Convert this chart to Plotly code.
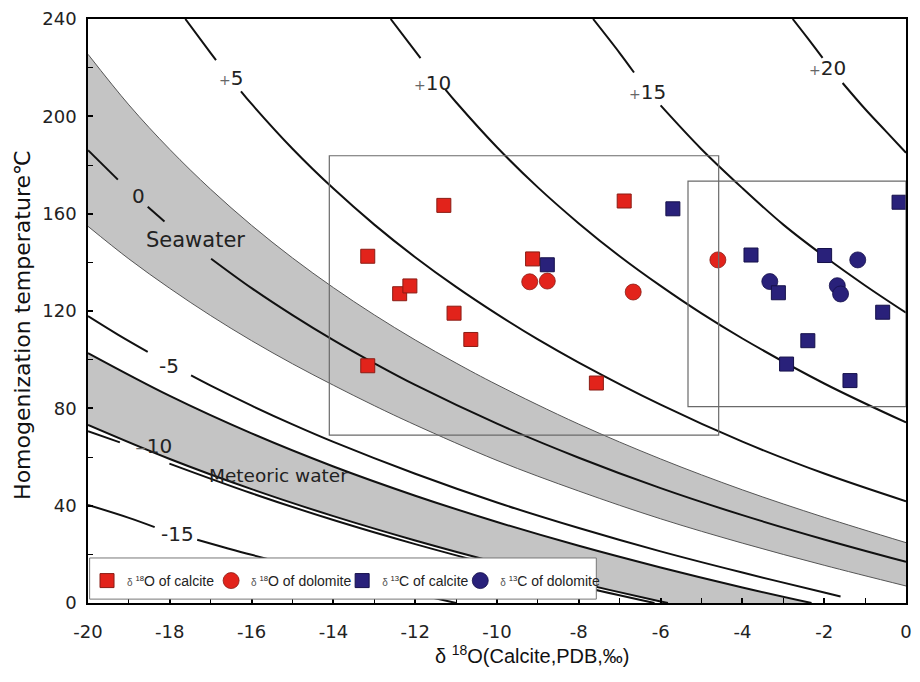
import plotly.graph_objects as go

# ---------------- data ----------------
# delta18O of calcite (red squares)
CAL_O_X = [-13.16, -11.30, -12.38, -12.13, -13.16, -11.05, -10.64, -9.13, -6.89, -7.57]
CAL_O_Y = [142.5, 163.4, 127.1, 130.3, 97.5, 119.1, 108.3, 141.4, 165.2, 90.4]
# delta18O of dolomite (red circles)
DOL_O_X = [-9.20, -8.77, -6.67, -4.60]
DOL_O_Y = [132.0, 132.3, 127.8, 141.0]
# delta13C of calcite (blue squares)
CAL_C_X = [-8.77, -5.70, -3.79, -3.12, -1.99, -0.17, -0.57, -2.40, -2.92, -1.37]
CAL_C_Y = [139.0, 162.0, 143.0, 127.5, 142.8, 164.7, 119.5, 107.8, 98.2, 91.4]
# delta13C of dolomite (blue circles)
DOL_C_X = [-3.33, -1.68, -1.60, -1.18]
DOL_C_Y = [132.1, 130.4, 127.0, 141.0]

# water isotope curves (None = gap left for a label)
PLUS20_X = [-2.77, -2.4, -2.04, None, -1.55, -1.0, -0.5, 0.0]
PLUS20_Y = [240, 232, 224, None, 213.7, 203, 194, 185]
PLUS15_X = [-7.65, -7.0, -6.65, None, -6.0, -5.0, -4.0, -3.0, -2.0, -1.0, 0.0]
PLUS15_Y = [240, 226, 218, None, 204.5, 186.5, 170.5, 155.5, 142.5, 130.5, 119.3]
PLUS10_X = [-12.6, -12.0, -11.87, None, -11.26, -11.0, -10.0, -9.0, -8.0, -7.0, -6.0, -5.0, -4.0, -2.0, 0.0]
PLUS10_Y = [240, 226.8, 223.9, None, 211.0, 205.8, 187.3, 170.8, 156.0, 142.5, 130.3, 119.0, 108.7, 90.2, 74.2]
PLUS5_X = [-17.62, -17.0, -16.87, None, -16.26, -16.0, -15.0, -14.0, -13.0, -12.0, -11.0, -10.0, -9.0, -8.0, -6.0, -4.0, -2.0, 0.0]
PLUS5_Y = [240, 226.0, 223.1, None, 210.3, 205.1, 186.7, 170.3, 155.5, 142.1, 129.9, 118.7, 108.3, 98.8, 81.5, 66.3, 53.2, 41.8]
ZERO_X = [-20, -19.27, None, -18.54, -18.13, None, -16.99, -16, -15, -14, -13, -12, -10, -8, -6, -4, -2, 0]
ZERO_Y = [186.1, 174.0, None, 162.8, 156.8, None, 141.5, 129.4, 118.3, 108.0, 98.5, 89.6, 73.7, 59.7, 47.2, 36.1, 26.1, 16.9]
MINUS5_X = [-20, -19.27, -18.54, None, -17.48, -17, -16, -15, -14, -12, -10, -8, -6, -4, -2, -1.6]
MINUS5_Y = [117.9, 110.3, 103.2, None, 93.5, 89.3, 81.1, 73.4, 66.2, 53.1, 41.3, 30.8, 21.2, 12.5, 4.3, 2.7]
MINUS10_X = [-20, -19.22, None, -18.01, -16, -14, -12, -10, -8, -6.15]
MINUS10_Y = [70.6, 66.0, None, 57.3, 45.1, 34.1, 24.2, 15.2, 7.0, 0]
MINUS15_X = [-20, -19, -18.37, None, -17.33, -16, -14, -12, -11]
MINUS15_Y = [40.3, 35.0, 31.2, None, 26.0, 19.8, 11.5, 3.8, 0]

# seawater band edges
SEA_UP_X = [-20, -19, -18, -17, -16, -15, -14, -13, -12, -11, -10, -8, -6, -4, -2, 0]
SEA_UP_Y = [225.5, 204.7, 186.4, 170.0, 155.2, 141.8, 129.6, 118.4, 108.1, 98.6, 89.7, 73.5, 59.2, 46.5, 35.2, 24.8]
SEA_LO_X = [-20, -19, -18, -17, -16, -15, -14, -13, -12, -10, -8, -6, -4, -2, 0]
SEA_LO_Y = [154.8, 141.4, 129.3, 118.1, 107.8, 98.3, 89.5, 81.1, 73.2, 58.6, 46.0, 34.6, 24.6, 15.5, 7.0]
# meteoric water band edges
MET_UP_X = [-20, -18, -16, -14, -12, -10, -8, -6, -4, -2.31]
MET_UP_Y = [102.7, 85.1, 69.7, 56.1, 44.1, 33.3, 23.5, 14.6, 6.4, 0]
MET_LO_X = [-20, -18, -16, -14, -12, -10, -8, -6, -5.82]
MET_LO_Y = [73.2, 59.2, 46.8, 35.7, 25.7, 16.6, 8.3, 0.65, 0]

# sample boxes [x0, x1, y0, y1]
BOX1 = [-14.10, -4.58, 69.0, 183.8]
BOX2 = [-5.33, 0.0, 80.7, 173.4]

X_TICKS = [-20, -18, -16, -14, -12, -10, -8, -6, -4, -2, 0]
X_TICK_TEXT = ["-20", "-18", "-16", "-14", "-12", "-10", "-8", "-6", "-4", "-2", "0"]
Y_TICKS = [0, 40, 80, 120, 160, 200, 240]
Y_TICK_TEXT = ["0", "40", "80", "120", "160", "200", "240"]

# ---------------- figure ----------------
GRAY = "#c4c4c4"
RED = "#e2231b"
RED_EDGE = "#8a1c14"
BLUE = "#29217a"
BLUE_EDGE = "#15104a"
FONT = "DejaVu Sans, Verdana, sans-serif"
ARIAL = "Liberation Sans, Arial, sans-serif"

fig = go.Figure()


def band(xlo, ylo, xup, yup):
    fig.add_trace(go.Scatter(x=xlo, y=ylo, mode="lines",
                             line=dict(width=0, shape="spline"),
                             showlegend=False, hoverinfo="skip"))
    fig.add_trace(go.Scatter(x=xup, y=yup, mode="lines",
                             line=dict(width=0, shape="spline"),
                             fill="tonexty", fillcolor=GRAY,
                             showlegend=False, hoverinfo="skip"))


band(SEA_LO_X, SEA_LO_Y, SEA_UP_X, SEA_UP_Y)
band(MET_LO_X, MET_LO_Y, MET_UP_X, MET_UP_Y)


def curve(x, y, width=2.0, color="#111111"):
    fig.add_trace(go.Scatter(x=x, y=y, mode="lines",
                             line=dict(width=width, color=color, shape="spline"),
                             connectgaps=False, showlegend=False, hoverinfo="skip"))


curve(SEA_UP_X, SEA_UP_Y, 1.0, "#555555")
curve(SEA_LO_X, SEA_LO_Y, 1.0, "#555555")
for cx, cy in [(PLUS20_X, PLUS20_Y), (PLUS15_X, PLUS15_Y), (PLUS10_X, PLUS10_Y),
               (PLUS5_X, PLUS5_Y), (ZERO_X, ZERO_Y), (MINUS5_X, MINUS5_Y),
               (MET_UP_X, MET_UP_Y), (MET_LO_X, MET_LO_Y),
               (MINUS10_X, MINUS10_Y), (MINUS15_X, MINUS15_Y)]:
    curve(cx, cy)

DELTA = "<span style='font-size:10px;color:#555'>δ </span>"
SUP18 = "<span style='font-size:11px'><sup>18</sup></span>"
SUP13 = "<span style='font-size:11px'><sup>13</sup></span>"

fig.add_trace(go.Scatter(x=CAL_O_X, y=CAL_O_Y, mode="markers", legend="legend",
                         name=DELTA + SUP18 + "O of calcite",
                         marker=dict(symbol="square", size=14, color=RED,
                                     line=dict(color=RED_EDGE, width=1))))
fig.add_trace(go.Scatter(x=DOL_O_X, y=DOL_O_Y, mode="markers", legend="legend2",
                         name=DELTA + SUP18 + "O of dolomite",
                         marker=dict(symbol="circle", size=16, color=RED,
                                     line=dict(color=RED_EDGE, width=0.8))))
fig.add_trace(go.Scatter(x=DOL_C_X, y=DOL_C_Y, mode="markers", legend="legend4",
                         name=DELTA + SUP13 + "C of dolomite",
                         marker=dict(symbol="circle", size=16, color=BLUE,
                                     line=dict(color=BLUE_EDGE, width=0.8))))
fig.add_trace(go.Scatter(x=CAL_C_X, y=CAL_C_Y, mode="markers", legend="legend3",
                         name=DELTA + SUP13 + "C of calcite",
                         marker=dict(symbol="square", size=14, color=BLUE,
                                     line=dict(color=BLUE_EDGE, width=1))))

shapes = []
for b in (BOX1, BOX2):
    shapes.append(dict(type="rect", xref="x", yref="y", x0=b[0], x1=b[1], y0=b[2], y1=b[3],
                       line=dict(color="#6a6a6a", width=1.2), fillcolor="rgba(0,0,0,0)",
                       layer="above"))
# legend frame
shapes.append(dict(type="rect", xref="x domain", yref="y", x0=0.002, x1=0.6214, y0=1.6, y1=18.5,
                   line=dict(color="#777777", width=1), fillcolor="white", layer="above"))

PLUS = "<span style='font-size:14px;color:#666'>+</span>"
MINUS = "<span style='font-size:14px;color:#666'>−</span>"
labels = [
    (PLUS + "5", -16.5, 215.6, 20),
    (PLUS + "10", -11.58, 213.9, 20),
    (PLUS + "15", -6.31, 209.8, 20),
    (PLUS + "20", -1.92, 219.9, 20),
    ("0", -18.77, 167.1, 20),
    ("Seawater", -17.38, 149.0, 21),
    ("-5", -18.03, 97.6, 20),
    (MINUS + "10", -18.4, 64.7, 20),
    ("Meteoric water", -15.34, 52.6, 18.5),
    ("-15", -17.82, 28.2, 20),
]
annotations = []
for txt, lx, ly, fs in labels:
    annotations.append(dict(text=txt, x=lx, y=ly, xref="x", yref="y", showarrow=False,
                            xanchor="center", yanchor="middle",
                            font=dict(family=FONT, size=fs, color="#222222")))
annotations.append(dict(text="Homogenization temperature℃", xref="paper", yref="paper",
                        x=-0.0801, y=0.477, textangle=-90, showarrow=False,
                        xanchor="center", yanchor="middle",
                        font=dict(family=FONT, size=22, color="#111111")))
annotations.append(dict(text="δ <sup>18</sup>O(Calcite,PDB,‰)", xref="paper", yref="paper",
                        x=0.543, y=-0.088, showarrow=False,
                        xanchor="center", yanchor="middle",
                        font=dict(family=ARIAL, size=20, color="#111111")))


def leg(xpos):
    return dict(orientation="h", x=xpos, xanchor="left", y=0.0377, yanchor="middle",
                bgcolor="rgba(0,0,0,0)", borderwidth=0, itemwidth=30,
                font=dict(family=ARIAL, size=14, color="#222222"))


fig.update_layout(
    width=920, height=682,
    margin=dict(l=88, r=8, t=19, b=79),
    paper_bgcolor="white", plot_bgcolor="white",
    showlegend=True,
    legend=leg(-0.0012),
    legend2=leg(0.1505),
    legend3=leg(0.3107),
    legend4=leg(0.4551),
    shapes=shapes,
    annotations=annotations,
    xaxis=dict(range=[-20, 0], tickmode="array", tickvals=X_TICKS, ticktext=X_TICK_TEXT,
               ticks="inside", ticklen=5, tickwidth=1.5, tickcolor="black",
               showline=True, linecolor="black", linewidth=1.5, mirror=True,
               showgrid=False, zeroline=False, ticklabelstandoff=12,
               tickfont=dict(family=FONT, size=18, color="#222222"),
               minor=dict(dtick=1, tick0=0, ticks="inside", ticklen=5, tickwidth=1.2,
                          tickcolor="black", showgrid=False)),
    yaxis=dict(range=[0, 240], tickmode="array", tickvals=Y_TICKS, ticktext=Y_TICK_TEXT,
               ticks="inside", ticklen=5, tickwidth=1.5, tickcolor="black",
               showline=True, linecolor="black", linewidth=1.5, mirror=True,
               showgrid=False, zeroline=False, ticklabelstandoff=6,
               tickfont=dict(family=FONT, size=18, color="#222222"),
               minor=dict(dtick=20, tick0=0, ticks="inside", ticklen=5, tickwidth=1.2,
                          tickcolor="black", showgrid=False)),
)

fig.write_html("out.html", config={"displayModeBar": False},
               post_script="document.body.style.margin='0';document.body.style.padding='0';")
